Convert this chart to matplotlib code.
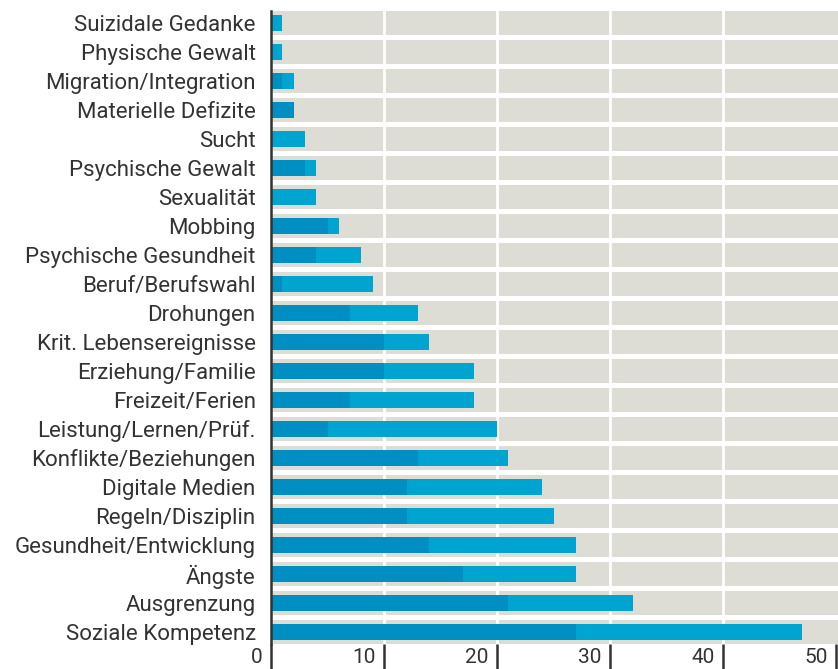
import matplotlib.pyplot as plt
from matplotlib.transforms import ScaledTranslation

# categories from top to bottom
categories = ['Suizidale Gedanke', 'Physische Gewalt', 'Migration/Integration',
              'Materielle Defizite', 'Sucht', 'Psychische Gewalt', 'Sexualität',
              'Mobbing', 'Psychische Gesundheit', 'Beruf/Berufswahl', 'Drohungen',
              'Krit. Lebensereignisse', 'Erziehung/Familie', 'Freizeit/Ferien',
              'Leistung/Lernen/Prüf.', 'Konflikte/Beziehungen', 'Digitale Medien',
              'Regeln/Disziplin', 'Gesundheit/Entwicklung', 'Ängste', 'Ausgrenzung',
              'Soziale Kompetenz']
# dark segment
part_a = [0, 0, 1, 2, 0, 3, 0, 5, 4, 1, 7, 10, 10, 7, 5, 13, 12, 12, 14, 17, 21, 27]
# total bar length
totals = [1, 1, 2, 2, 3, 4, 4, 6, 8, 9, 13, 14, 18, 18, 20, 21, 24, 25, 27, 27, 32, 47]
part_b = [t - a for t, a in zip(totals, part_a)]

xticks = [0, 10, 20, 30, 40, 50]

plt.rcParams['font.family'] = ['Roboto', 'DejaVu Sans']
text_col = '#333333'

fig = plt.figure(figsize=(8.38, 6.69), dpi=100)
ax = fig.add_axes([271 / 838, 25 / 669, 567 / 838, 633 / 669])

ypos = list(range(len(categories)))
xmax = 567 / 11.3

# grey row bands
ax.barh(ypos, [xmax] * len(ypos), height=0.83, color='#ddddd5', zorder=1)
for x in xticks[1:-1]:
    ax.axvline(x, color='white', lw=2, zorder=2)

ax.barh(ypos, part_a, height=0.52, color='#008fc2', zorder=3)
ax.barh(ypos, part_b, left=part_a, height=0.52, color='#00a4d0', zorder=3)

ax.set_xlim(0, xmax)
ax.set_ylim(len(categories) - 1 + 0.415, -0.415)

ax.set_yticks(ypos)
ax.set_yticklabels(categories, fontsize=16, color=text_col)
ax.tick_params(axis='y', length=0, pad=11)

ax.set_xticks(xticks)
ax.set_xticklabels([str(x) for x in xticks], fontsize=15, color=text_col)
ax.tick_params(axis='x', direction='out', length=18, width=1.8, color=text_col, pad=-15)
for lab in ax.get_xticklabels():
    lab.set_horizontalalignment('right')
    lab.set_transform(lab.get_transform() + ScaledTranslation(-6 / 72, 0, fig.dpi_scale_trans))

for s in ['top', 'right', 'bottom']:
    ax.spines[s].set_visible(False)
ax.spines['left'].set_color(text_col)
ax.spines['left'].set_linewidth(1.8)
ax.spines['left'].set_zorder(4)

fig.savefig('out.png', dpi=100)
